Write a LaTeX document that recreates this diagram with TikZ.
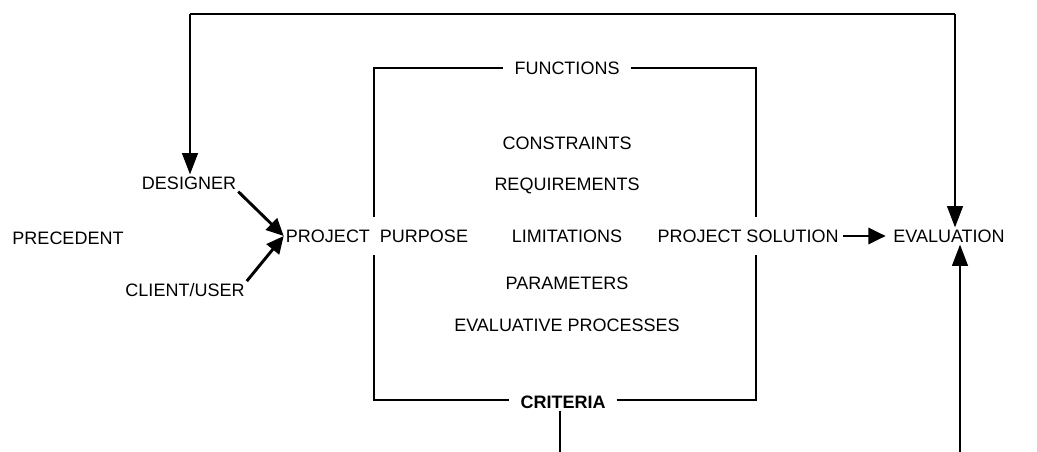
\documentclass[tikz,border=0pt]{standalone}
\usepackage{fontspec}
\setmainfont{Liberation Sans}
\usetikzlibrary{positioning,arrows.meta}

\begin{document}
\begin{tikzpicture}[x=0.75pt,y=-0.75pt,
    lbl/.style={font=\fontsize{13.5}{15}\selectfont, inner sep=1.5pt},
    gap/.style={outer xsep=7pt},
    vgap/.style={outer ysep=8pt},
    line/.style={line width=1pt},
    arrv/.style={line width=1pt, -{Triangle[length=16pt,width=12pt]}},
    arrd/.style={line width=2.2pt, -{Triangle[length=13pt,width=12pt]}}]
    \useasboundingbox (0,0) rectangle (1037,452);
    % labels
    \node[lbl] (prec) at (68,238) {PRECEDENT};
    \node[lbl] (des) at (189,183) {DESIGNER};
    \node[lbl] (client) at (185,290) {CLIENT/USER};
    \node[lbl, vgap] (purpose) at (377,236) {PROJECT\ \ PURPOSE};
    \node[lbl] (lim) at (567,236) {LIMITATIONS};
    \node[lbl] (req) at (567,186) {REQUIREMENTS};
    \node[lbl] (cons) at (567,143) {CONSTRAINTS};
    \node[lbl] (par) at (567,283) {PARAMETERS};
    \node[lbl] (evp) at (567,325) {EVALUATIVE PROCESSES};
    \node[lbl, gap] (func) at (567,68) {FUNCTIONS};
    \node[lbl, gap, font=\fontsize{13.5}{15}\selectfont\bfseries] (crit) at (563,402) {CRITERIA};
    \node[lbl, vgap] (sol) at (748,236) {PROJECT SOLUTION};
    \node[lbl] (eval) at (949,236) {EVALUATION};
    % box corners
    \coordinate (tl) at (374,68);
    \coordinate (tr) at (756,68);
    \coordinate (bl) at (374,400);
    \coordinate (br) at (756,400);
    % feedback corners
    \coordinate (fbl) at (190,14);
    \coordinate (fbr) at (955,14);
    \coordinate (critdown) at (560,452);
    \coordinate (evaldown) at (960,452);
    % box
    \draw[line] (func.west) -- (tl) -- (tl |- purpose.north);
    \draw[line] (func.east) -- (tr) -- (tr |- sol.north);
    \draw[line] (tl |- purpose.south) -- (bl) -- (bl -| crit.west);
    \draw[line] (br -| crit.east) -- (br) -- (br |- sol.south);
    % arrows
    \draw[arrd] (des.south east) -- (purpose.west);
    \draw[arrd] (client.north east) -- (purpose.west);
    \draw[arrd, shorten <=2pt, shorten >=4pt] (sol.east) -- (eval.west);
    \draw[line] (fbl) -- (fbr);
    \draw[arrv] (fbl) -- (fbl |- des.north);
    \draw[arrv] (fbr) -- (fbr |- eval.north);
    \draw[line] (crit.south -| critdown) -- (critdown);
    \draw[arrv] (evaldown) -- (evaldown |- eval.south);
\end{tikzpicture}
\end{document}
